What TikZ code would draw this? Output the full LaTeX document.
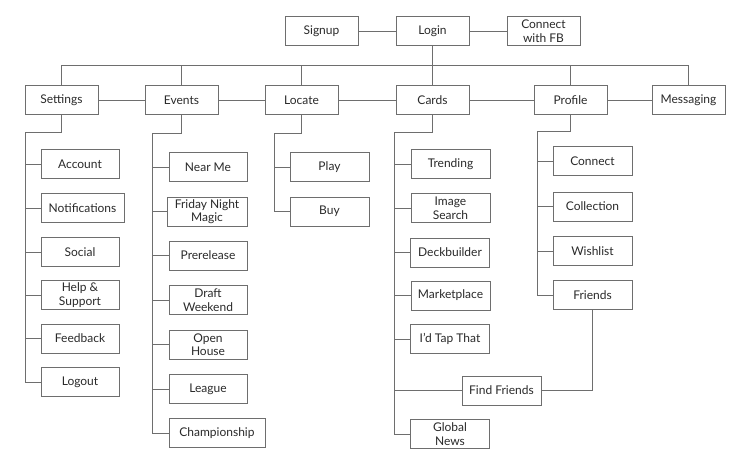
\documentclass[tikz,border=0pt]{standalone}
\usepackage{fontspec}
\setmainfont{Lato}
\begin{document}
\begin{tikzpicture}[x=1pt,y=-1pt,
  box/.style={draw=boxgray,line width=1pt,fill=white,text=textgray,font=\fontsize{12}{13.5}\selectfont,align=center,inner sep=1pt,minimum height=29pt},
  conn/.style={draw=boxgray,line width=1pt},
]
\definecolor{boxgray}{HTML}{6E6E6E}
\definecolor{textgray}{HTML}{2A2A2A}
\useasboundingbox (0,0) rectangle (750,472);
% top row
\node[box,minimum width=73pt] (signup) at (321.5,31) {Signup};
\node[box,minimum width=73pt] (login) at (432.5,31) {Login};
\node[box,minimum width=73pt] (fb) at (543.5,31) {Connect\\with FB};
% second row
\node[box,minimum width=73pt] (settings) at (61.5,100) {Settings};
\node[box,minimum width=73pt] (events) at (181.5,100) {Events};
\node[box,minimum width=73pt] (locate) at (301.5,100) {Locate};
\node[box,minimum width=73pt] (cards) at (432.5,100) {Cards};
\node[box,minimum width=73pt] (profile) at (570.5,100) {Profile};
\node[box,minimum width=73pt] (messaging) at (688.5,100) {Messaging};
% settings children
\node[box,minimum width=78pt] (account) at (80,164) {Account};
\node[box,minimum width=83pt] (notif) at (82.5,208) {Notifications};
\node[box,minimum width=78pt] (social) at (80,252) {Social};
\node[box,minimum width=78pt] (help) at (80,295) {Help \&\\Support};
\node[box,minimum width=78pt] (feedback) at (80,338.5) {Feedback};
\node[box,minimum width=78pt] (logout) at (80,382) {Logout};
% events children
\node[box,minimum width=78pt] (nearme) at (208,167) {Near Me};
\node[box,minimum width=80pt] (fnm) at (207,211.5) {Friday Night\\Magic};
\node[box,minimum width=78pt] (prerelease) at (208,255.5) {Prerelease};
\node[box,minimum width=78pt] (draft) at (208,300) {Draft\\Weekend};
\node[box,minimum width=78pt] (openhouse) at (208,344.5) {Open\\House};
\node[box,minimum width=78pt] (league) at (208,389) {League};
\node[box,minimum width=96pt] (champ) at (217,433) {Championship};
% locate children
\node[box,minimum width=79pt] (play) at (329.5,167) {Play};
\node[box,minimum width=79pt] (buy) at (329.5,211.5) {Buy};
% cards children
\node[box,minimum width=79pt] (trending) at (450.5,164) {Trending};
\node[box,minimum width=79pt] (imgsearch) at (450.5,208) {Image\\Search};
\node[box,minimum width=79pt] (deck) at (450,252.5) {Deckbuilder};
\node[box,minimum width=79pt] (market) at (450.5,295.5) {Marketplace};
\node[box,minimum width=79pt] (tap) at (450,339) {I’d Tap That};
\node[box,minimum width=79pt] (findfr) at (501.5,390.5) {Find Friends};
\node[box,minimum width=79pt] (global) at (450,434) {Global\\News};
% profile children
\node[box,minimum width=79pt] (connect) at (592.5,161) {Connect};
\node[box,minimum width=79pt] (collection) at (592.5,206.5) {Collection};
\node[box,minimum width=79pt] (wishlist) at (592.5,251) {Wishlist};
\node[box,minimum width=79pt] (friends) at (592.5,295) {Friends};

% top connections
\draw[conn] (signup) -- (login);
\draw[conn] (login) -- (fb);
\coordinate (busL) at (61.5,65);
\coordinate (busR) at (688.5,65);
\draw[conn] (busL) -- (busR);
\draw[conn] (login.south) -- (cards.north);
\foreach \n in {settings,events,locate,profile,messaging}
  \draw[conn] (\n.north) -- (\n.north |- busL);
% second row horizontal
\draw[conn] (settings) -- (events);
\draw[conn] (events) -- (locate);
\draw[conn] (locate) -- (cards);
\draw[conn] (cards) -- (profile);
\draw[conn] (profile) -- (messaging);

% settings spine
\coordinate (sA) at (61.5,132);
\coordinate (sB) at (25,132);
\draw[conn] (settings.south) -- (sA) -- (sB) |- (logout.west);
\foreach \n in {account,notif,social,help,feedback}
  \draw[conn] (\n.west) -- (\n.west -| sB);
% events spine
\coordinate (eA) at (181.5,133);
\coordinate (eB) at (152,133);
\draw[conn] (events.south) -- (eA) -- (eB) |- (champ.west);
\foreach \n in {nearme,fnm,prerelease,draft,openhouse,league}
  \draw[conn] (\n.west) -- (\n.west -| eB);
% locate spine
\coordinate (lA) at (301.5,133);
\coordinate (lB) at (274,133);
\draw[conn] (locate.south) -- (lA) -- (lB) |- (buy.west);
\draw[conn] (play.west) -- (play.west -| lB);
% cards spine
\coordinate (cA) at (432.5,132);
\coordinate (cB) at (394,132);
\draw[conn] (cards.south) -- (cA) -- (cB) |- (global.west);
\foreach \n in {trending,imgsearch,deck,market,tap,findfr}
  \draw[conn] (\n.west) -- (\n.west -| cB);
% profile spine
\coordinate (pA) at (570.5,131);
\coordinate (pB) at (537,131);
\draw[conn] (profile.south) -- (pA) -- (pB) |- (friends.west);
\foreach \n in {connect,collection,wishlist}
  \draw[conn] (\n.west) -- (\n.west -| pB);
% friends to find friends
\draw[conn] (friends.south) |- (findfr.east);
\end{tikzpicture}
\end{document}
